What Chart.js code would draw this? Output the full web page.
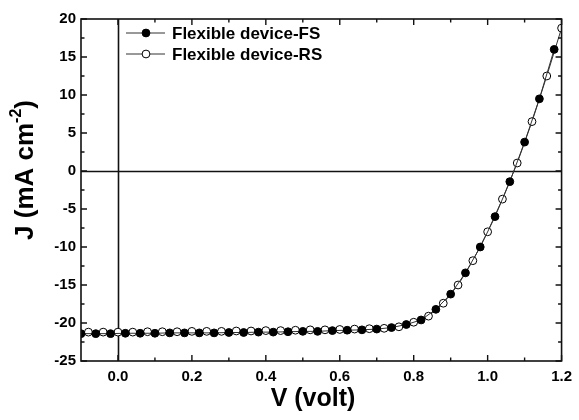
<!DOCTYPE html>
<html>
<head>
<meta charset="utf-8">
<script src="https://cdn.jsdelivr.net/npm/chart.js@4.4.0/dist/chart.umd.min.js"></script>
<style>
  body { margin: 0; background: #fff; }
  canvas { display: block; }
</style>
</head>
<body>
<canvas id="ivChart" width="579" height="420"></canvas>
<script>
// forward scan (filled) and reverse scan (open)
const voltsFS = [-0.10, -0.06, -0.02, 0.02, 0.06, 0.10, 0.14, 0.18, 0.22, 0.26, 0.30, 0.34, 0.38, 0.42, 0.46, 0.50,
  0.54, 0.58, 0.62, 0.66, 0.70, 0.74, 0.78, 0.82, 0.86, 0.90, 0.94, 0.98, 1.02, 1.06, 1.10, 1.14, 1.18];
const currentFS = [-21.4, -21.4, -21.4, -21.35, -21.35, -21.35, -21.3, -21.3, -21.3, -21.3, -21.25, -21.25, -21.2, -21.2, -21.15, -21.1,
  -21.1, -21.0, -20.95, -20.9, -20.8, -20.6, -20.2, -19.6, -18.2, -16.2, -13.4, -10.0, -6.0, -1.4, 3.8, 9.5, 16.0];

const voltsRS = [-0.08, -0.04, 0.00, 0.04, 0.08, 0.12, 0.16, 0.20, 0.24, 0.28, 0.32, 0.36, 0.40, 0.44, 0.48, 0.52,
  0.56, 0.60, 0.64, 0.68, 0.72, 0.76, 0.80, 0.84, 0.88, 0.92, 0.96, 1.00, 1.04, 1.08, 1.12, 1.16, 1.20];
const currentRS = [-21.2, -21.2, -21.2, -21.2, -21.15, -21.15, -21.15, -21.1, -21.1, -21.1, -21.05, -21.05, -21.0, -21.0, -20.95, -20.9,
  -20.9, -20.85, -20.8, -20.75, -20.7, -20.5, -19.9, -19.1, -17.4, -15.0, -11.8, -8.0, -3.7, 1.05, 6.5, 12.5, 18.8];

const seriesNames = ['Flexible device-FS', 'Flexible device-RS'];
const xTicks = [0.0, 0.2, 0.4, 0.6, 0.8, 1.0, 1.2];
const xMinor = [0.1, 0.3, 0.5, 0.7, 0.9, 1.1];
const yTicks = [-25, -20, -15, -10, -5, 0, 5, 10, 15, 20];
const yMinor = [-22.5, -17.5, -12.5, -7.5, -2.5, 2.5, 7.5, 12.5, 17.5];

const FONT = '"Liberation Sans", Arial, sans-serif';

function toPoints(xs, ys) {
  return xs.map((x, i) => ({ x: x, y: ys[i] }));
}

// frame, inward ticks, zero lines, legend and axis titles
const decorPlugin = {
  id: 'decor',
  beforeDatasetsDraw(chart) {
    const ctx = chart.ctx, a = chart.chartArea;
    const x = chart.scales.x, y = chart.scales.y;
    ctx.save();
    ctx.strokeStyle = '#111';
    ctx.lineWidth = 1.6;
    ctx.beginPath();
    const x0 = Math.round(x.getPixelForValue(0)) + 0.5;
    ctx.moveTo(x0, a.top); ctx.lineTo(x0, a.bottom);
    const y0 = Math.round(y.getPixelForValue(0)) + 0.5;
    ctx.moveTo(a.left, y0); ctx.lineTo(a.right, y0);
    ctx.stroke();
    ctx.restore();
  },
  afterDraw(chart) {
    const ctx = chart.ctx, a = chart.chartArea;
    const x = chart.scales.x, y = chart.scales.y;
    ctx.save();
    ctx.strokeStyle = '#111';
    ctx.lineWidth = 1.6;
    ctx.strokeRect(a.left, a.top, a.right - a.left, a.bottom - a.top);

    ctx.lineWidth = 1.4;
    ctx.beginPath();
    const tickX = (v, len) => {
      const px = x.getPixelForValue(v);
      ctx.moveTo(px, a.bottom); ctx.lineTo(px, a.bottom - len);
      ctx.moveTo(px, a.top); ctx.lineTo(px, a.top + len);
    };
    const tickY = (v, len) => {
      const py = y.getPixelForValue(v);
      ctx.moveTo(a.left, py); ctx.lineTo(a.left + len, py);
      ctx.moveTo(a.right, py); ctx.lineTo(a.right - len, py);
    };
    xTicks.forEach(v => tickX(v, 6));
    xMinor.forEach(v => tickX(v, 3.5));
    yTicks.forEach(v => tickY(v, 6));
    yMinor.forEach(v => tickY(v, 3.5));
    ctx.stroke();

    // legend
    const ds = chart.data.datasets;
    ds.forEach((d, i) => {
      const ly = 33 + i * 21;
      ctx.strokeStyle = '#333';
      ctx.lineWidth = 1;
      ctx.beginPath();
      ctx.moveTo(126, ly); ctx.lineTo(165, ly);
      ctx.stroke();
      ctx.beginPath();
      ctx.arc(146, ly, d.pointRadius, 0, Math.PI * 2);
      ctx.fillStyle = d.pointBackgroundColor;
      ctx.fill();
      ctx.strokeStyle = d.pointBorderColor;
      ctx.stroke();
      ctx.fillStyle = '#000';
      ctx.font = 'bold 17px ' + FONT;
      ctx.textAlign = 'left';
      ctx.textBaseline = 'middle';
      ctx.fillText(d.label, 172, ly + 1);
    });

    // x title
    ctx.fillStyle = '#000';
    ctx.font = 'bold 25px ' + FONT;
    ctx.textAlign = 'center';
    ctx.textBaseline = 'middle';
    ctx.fillText('V (volt)', 313, 399);

    // y title with superscript
    ctx.save();
    ctx.translate(26, 170);
    ctx.rotate(-Math.PI / 2);
    const big = 'bold 26px ' + FONT, small = 'bold 16px ' + FONT;
    ctx.font = big;
    const p1 = 'J (mA cm', p3 = ')';
    const w1 = ctx.measureText(p1).width, w3 = ctx.measureText(p3).width;
    ctx.font = small;
    const w2 = ctx.measureText('-2').width;
    let sx = -(w1 + w2 + w3) / 2;
    ctx.textAlign = 'left';
    ctx.font = big;
    ctx.fillText(p1, sx, 0);
    ctx.font = small;
    ctx.fillText('-2', sx + w1, -9);
    ctx.font = big;
    ctx.fillText(p3, sx + w1 + w2, 0);
    ctx.restore();

    ctx.restore();
  }
};

const ctx = document.getElementById('ivChart').getContext('2d');
const ivChart = new Chart(ctx, {
  type: 'line',
  data: {
    datasets: [{
      label: seriesNames[0],
      data: toPoints(voltsFS, currentFS),
      borderColor: '#333',
      borderWidth: 1,
      pointRadius: 3.9,
      pointBackgroundColor: '#000',
      pointBorderColor: '#000',
      pointBorderWidth: 1,
      clip: 0
    }, {
      label: seriesNames[1],
      data: toPoints(voltsRS, currentRS),
      borderColor: '#333',
      borderWidth: 1,
      pointRadius: 3.9,
      pointBackgroundColor: '#fff',
      pointBorderColor: '#000',
      pointBorderWidth: 1,
      clip: 0
    }]
  },
  options: {
    responsive: false,
    animation: false,
    layout: { padding: { top: 19, right: 12, left: 0, bottom: 0 } },
    plugins: { legend: { display: false }, tooltip: { enabled: false } },
    scales: {
      x: {
        type: 'linear',
        min: -0.1,
        max: 1.2,
        grid: { display: false, drawTicks: false },
        border: { display: false },
        afterBuildTicks: s => { s.ticks = xTicks.map(v => ({ value: v })); },
        afterFit: s => { s.height = 59; },
        ticks: {
          padding: 7,
          color: '#000',
          font: { family: FONT, size: 15, weight: 'bold' },
          callback: v => v.toFixed(1)
        }
      },
      y: {
        min: -25,
        max: 20,
        grid: { display: false, drawTicks: false },
        border: { display: false },
        afterBuildTicks: s => { s.ticks = yTicks.map(v => ({ value: v })); },
        afterFit: s => { s.width = 81; },
        ticks: {
          padding: 5,
          color: '#000',
          font: { family: FONT, size: 15, weight: 'bold' }
        }
      }
    }
  },
  plugins: [decorPlugin]
});
</script>
</body>
</html>
